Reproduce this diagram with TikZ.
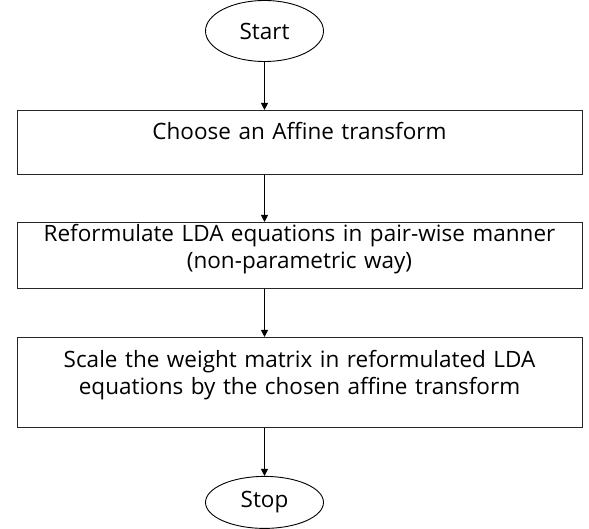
\documentclass[tikz,border=0pt]{standalone}
\usepackage{fontspec}
\setmainfont{Open Sans}
\usepackage{tikz}
\usetikzlibrary{positioning}
\usetikzlibrary{shapes.geometric}
\usetikzlibrary{arrows.meta}
\tikzset{terminalnode/.style={ellipse, draw=black, line width=0.9pt, minimum width=118pt, inner sep=0pt}}
\tikzset{processnode/.style={rectangle, draw=black!85, line width=1pt, text width=545pt, inner xsep=10pt, inner ysep=0pt, align=center}}
\tikzset{flowline/.style={-{Triangle[length=7pt,width=7pt]}, line width=0.9pt}}

\begin{document}
\begin{tikzpicture}[font=\fontsize{22.5}{27.5}\selectfont, node distance=48pt]

    \useasboundingbox (0,0) rectangle (589pt,-529pt);

    \node[terminalnode, minimum height=61pt]   (start)    at (264.5pt,-31pt)               {Start};
    \node[processnode, minimum height=64pt, text height=10pt, text depth=16pt]
                                               (choose)   [below=of start, xshift=35pt]    {Choose an Affine transform};
    \node[processnode, minimum height=66pt, text height=10pt, text depth=38pt]
                                               (reform)   [below=47pt of choose]           {Reformulate LDA equations in pair-wise manner\\(non-parametric way)};
    \node[processnode, minimum height=90pt, text height=10pt, text depth=40pt]
                                               (scale)    [below=of reform]                {Scale the weight matrix in reformulated LDA\\equations by the chosen affine transform};
    \node[terminalnode, minimum height=52pt]   (stop)     [below=of scale, xshift=-35pt]   {Stop};

    \draw[flowline] (start.south) -- (choose.north -| start);
    \draw[flowline] (choose.south -| start) -- (reform.north -| start);
    \draw[flowline] (reform.south -| start) -- (scale.north -| start);
    \draw[flowline] (scale.south -| start) -- (stop.north);
\end{tikzpicture}
\end{document}
